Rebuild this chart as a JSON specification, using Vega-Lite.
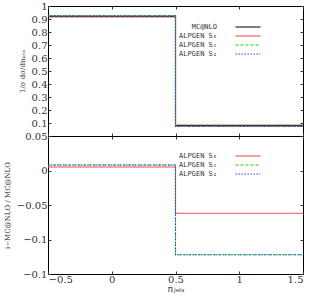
{
  "$schema": "https://vega.github.io/schema/vega-lite/v6.json",
  "padding": {"left": 2, "top": 0, "right": 6, "bottom": 0},
  "spacing": 0,
  "bounds": "flush",
  "config": {
    "view": {"stroke": "black", "strokeWidth": 1},
    "font": "DejaVu Serif",
    "axis": {"labelFont": "DejaVu Serif", "labelFontSize": 10, "labelColor": "#333", "tickColor": "#333", "tickSize": -3, "domain": false, "grid": false, "labelPadding": 4, "titleFont": "DejaVu Serif", "titleFontWeight": "normal", "titleColor": "#333"},
    "legend": {"labelFont": "DejaVu Sans Mono", "labelFontSize": 7, "labelColor": "#333", "symbolType": "M-2.5,0H2.5", "symbolSize": 100, "symbolStrokeWidth": 1.2, "rowPadding": -1, "title": null}
  },
  "datasets": {
    "top": [
      {"series": "MC@NLO", "x": -0.5, "y": 0.918},
      {"series": "MC@NLO", "x": 0.5, "y": 0.082},
      {"series": "MC@NLO", "x": 1.5, "y": 0.082},
      {"series": "ALPGEN S₀", "x": -0.5, "y": 0.923},
      {"series": "ALPGEN S₀", "x": 0.5, "y": 0.077},
      {"series": "ALPGEN S₀", "x": 1.5, "y": 0.077},
      {"series": "ALPGEN S₁", "x": -0.5, "y": 0.925},
      {"series": "ALPGEN S₁", "x": 0.5, "y": 0.073},
      {"series": "ALPGEN S₁", "x": 1.5, "y": 0.073},
      {"series": "ALPGEN S₂", "x": -0.5, "y": 0.925},
      {"series": "ALPGEN S₂", "x": 0.5, "y": 0.073},
      {"series": "ALPGEN S₂", "x": 1.5, "y": 0.073}
    ],
    "bottom": [
      {"series": "ALPGEN S₀", "x": -0.5, "y": 0.005},
      {"series": "ALPGEN S₀", "x": 0.5, "y": -0.062},
      {"series": "ALPGEN S₀", "x": 1.5, "y": -0.062},
      {"series": "ALPGEN S₁", "x": -0.5, "y": 0.008},
      {"series": "ALPGEN S₁", "x": 0.5, "y": -0.122},
      {"series": "ALPGEN S₁", "x": 1.5, "y": -0.122},
      {"series": "ALPGEN S₂", "x": -0.5, "y": 0.008},
      {"series": "ALPGEN S₂", "x": 0.5, "y": -0.122},
      {"series": "ALPGEN S₂", "x": 1.5, "y": -0.122}
    ]
  },
  "resolve": {"scale": {"color": "independent", "strokeDash": "independent"}, "legend": {"color": "independent", "strokeDash": "independent"}},
  "vconcat": [
    {
      "width": 255,
      "height": 130,
      "data": {"name": "top"},
      "layer": [
        {
          "mark": {"type": "line", "interpolate": "step-after", "strokeWidth": 1.1, "clip": true},
          "encoding": {
            "x": {"field": "x", "type": "quantitative", "scale": {"domain": [-0.5, 1.5], "nice": false, "zero": false}, "axis": {"values": [-0.5, 0, 0.5, 1, 1.5], "labels": false, "title": null, "minExtent": 0, "maxExtent": 0}},
            "y": {"field": "y", "type": "quantitative", "scale": {"domain": [0, 1], "nice": false}, "axis": {"values": [0, 0.1, 0.2, 0.3, 0.4, 0.5, 0.6, 0.7, 0.8, 0.9, 1], "labelExpr": "datum.value == 0 ? '' : format(datum.value, '~g')", "title": "1/σ dσ/dnⱼₑₜₛ", "titleFontSize": 7, "titlePadding": 6}},
            "color": {"field": "series", "type": "nominal", "sort": ["MC@NLO", "ALPGEN S₀", "ALPGEN S₁", "ALPGEN S₂"], "scale": {"domain": ["MC@NLO", "ALPGEN S₀", "ALPGEN S₁", "ALPGEN S₂"], "range": ["#000000", "#f04848", "#00dd00", "#3a3aff"]}, "legend": {"orient": "none", "legendX": 194, "legendY": 15, "labelAlign": "right", "labelOffset": -37, "encode": {"symbols": {"update": {"strokeDash": {"signal": "datum.value == 'ALPGEN S₁' ? [3,2] : datum.value == 'ALPGEN S₂' ? [1.5,1.5] : [1,0]"}}}}}},
            "strokeDash": {"field": "series", "type": "nominal", "scale": {"domain": ["MC@NLO", "ALPGEN S₀", "ALPGEN S₁", "ALPGEN S₂"], "range": [[1, 0], [1, 0], [3, 2], [1.5, 1.5]]}, "legend": null}
          }
        },
        {
          "mark": {"type": "line", "opacity": 0},
          "encoding": {
            "x": {"field": "x", "type": "quantitative", "axis": {"orient": "top", "values": [-0.5, 0, 0.5, 1, 1.5], "labels": false, "title": null, "minExtent": 0, "maxExtent": 0}},
            "y": {"field": "y", "type": "quantitative", "axis": {"orient": "right", "values": [0, 0.1, 0.2, 0.3, 0.4, 0.5, 0.6, 0.7, 0.8, 0.9, 1], "labels": false, "title": null, "minExtent": 0, "maxExtent": 0}}
          }
        }
      ],
      "resolve": {"axis": {"x": "independent", "y": "independent"}}
    },
    {
      "width": 255,
      "height": 138,
      "data": {"name": "bottom"},
      "layer": [
        {
          "mark": {"type": "line", "interpolate": "step-after", "strokeWidth": 1.1, "clip": true},
          "encoding": {
            "x": {"field": "x", "type": "quantitative", "scale": {"domain": [-0.5, 1.5], "nice": false, "zero": false}, "axis": {"values": [-0.5, 0, 0.5, 1, 1.5], "format": "~g", "title": "nⱼₑₜₛ", "titleFontSize": 9, "titleFontStyle": "italic", "titlePadding": 0, "labelPadding": 3}},
            "y": {"field": "y", "type": "quantitative", "scale": {"domain": [-0.15, 0.05], "nice": false, "zero": false}, "axis": {"values": [-0.15, -0.1, -0.05, 0, 0.05], "format": "~g", "title": "i−MC@NLO / MC@NLO", "titleFontSize": 7, "titlePadding": 6}},
            "color": {"field": "series", "type": "nominal", "sort": ["ALPGEN S₀", "ALPGEN S₁", "ALPGEN S₂"], "scale": {"domain": ["ALPGEN S₀", "ALPGEN S₁", "ALPGEN S₂"], "range": ["#f04848", "#00dd00", "#3a3aff"]}, "legend": {"orient": "none", "legendX": 194, "legendY": 14, "labelAlign": "right", "labelOffset": -37, "encode": {"symbols": {"update": {"strokeDash": {"signal": "datum.value == 'ALPGEN S₁' ? [3,2] : datum.value == 'ALPGEN S₂' ? [1.5,1.5] : [1,0]"}}}}}},
            "strokeDash": {"field": "series", "type": "nominal", "scale": {"domain": ["ALPGEN S₀", "ALPGEN S₁", "ALPGEN S₂"], "range": [[1, 0], [3, 2], [1.5, 1.5]]}, "legend": null}
          }
        },
        {
          "mark": {"type": "line", "opacity": 0},
          "encoding": {
            "x": {"field": "x", "type": "quantitative", "axis": {"orient": "top", "values": [-0.5, 0, 0.5, 1, 1.5], "labels": false, "title": null, "minExtent": 0, "maxExtent": 0}},
            "y": {"field": "y", "type": "quantitative", "axis": {"orient": "right", "values": [-0.15, -0.1, -0.05, 0, 0.05], "labels": false, "title": null, "minExtent": 0, "maxExtent": 0}}
          }
        }
      ],
      "resolve": {"axis": {"x": "independent", "y": "independent"}}
    }
  ]
}
